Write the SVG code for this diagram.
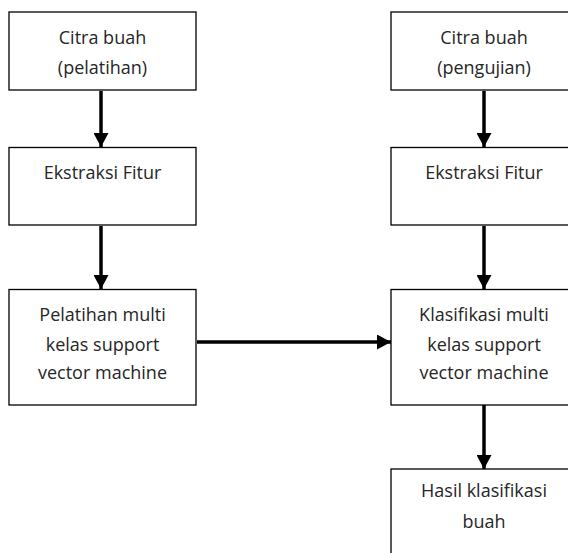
<svg xmlns="http://www.w3.org/2000/svg" width="568" height="553" viewBox="0 0 568 553">
<defs>
<style>
.box{fill:#fff;stroke:#000;stroke-width:1.3}
.t{font-family:"Open Sans","Liberation Sans",Arial,sans-serif;font-size:18px;fill:#262626;text-anchor:middle}
.c{stroke:#000;stroke-width:3.5;fill:none;marker-end:url(#ah)}
</style>
<marker id="ah" markerUnits="userSpaceOnUse" markerWidth="14" markerHeight="15" viewBox="0 0 14 15" refX="14" refY="7.5" orient="auto">
<path d="M0,0 L14,7.5 L0,15 Z" fill="#000"/>
</marker>
</defs>
<g id="connectors">
<line class="c" x1="101" y1="91" x2="101" y2="147"/>
<line class="c" x1="101" y1="226" x2="101" y2="289"/>
<line class="c" x1="484" y1="91" x2="484" y2="147"/>
<line class="c" x1="484" y1="226" x2="484" y2="289"/>
<line class="c" x1="197" y1="342" x2="391" y2="342"/>
<line class="c" x1="484" y1="405" x2="484" y2="469"/>
</g>
<g id="n1"><rect class="box" x="9" y="12" width="187" height="78"/><text class="t" x="102.5" y="44">Citra buah</text><text class="t" x="102.5" y="74">(pelatihan)</text></g>
<g id="n2"><rect class="box" x="391" y="12" width="187" height="78"/><text class="t" x="484" y="44">Citra buah</text><text class="t" x="484" y="74">(pengujian)</text></g>
<g id="n3"><rect class="box" x="9" y="147.5" width="187" height="77.5"/><text class="t" x="102.5" y="179">Ekstraksi Fitur</text></g>
<g id="n4"><rect class="box" x="391" y="147.5" width="187" height="77.5"/><text class="t" x="484" y="179">Ekstraksi Fitur</text></g>
<g id="n5"><rect class="box" x="9" y="289.5" width="187" height="115.5"/><text class="t" x="102.5" y="321">Pelatihan multi</text><text class="t" x="102.5" y="351">kelas support</text><text class="t" x="102.5" y="379">vector machine</text></g>
<g id="n6"><rect class="box" x="391" y="289.5" width="187" height="115.5"/><text class="t" x="484" y="321">Klasifikasi multi</text><text class="t" x="484" y="351">kelas support</text><text class="t" x="484" y="379">vector machine</text></g>
<g id="n7"><rect class="box" x="391" y="469" width="187" height="100"/><text class="t" x="484" y="497">Hasil klasifikasi</text><text class="t" x="484" y="528">buah</text></g>
</svg>
